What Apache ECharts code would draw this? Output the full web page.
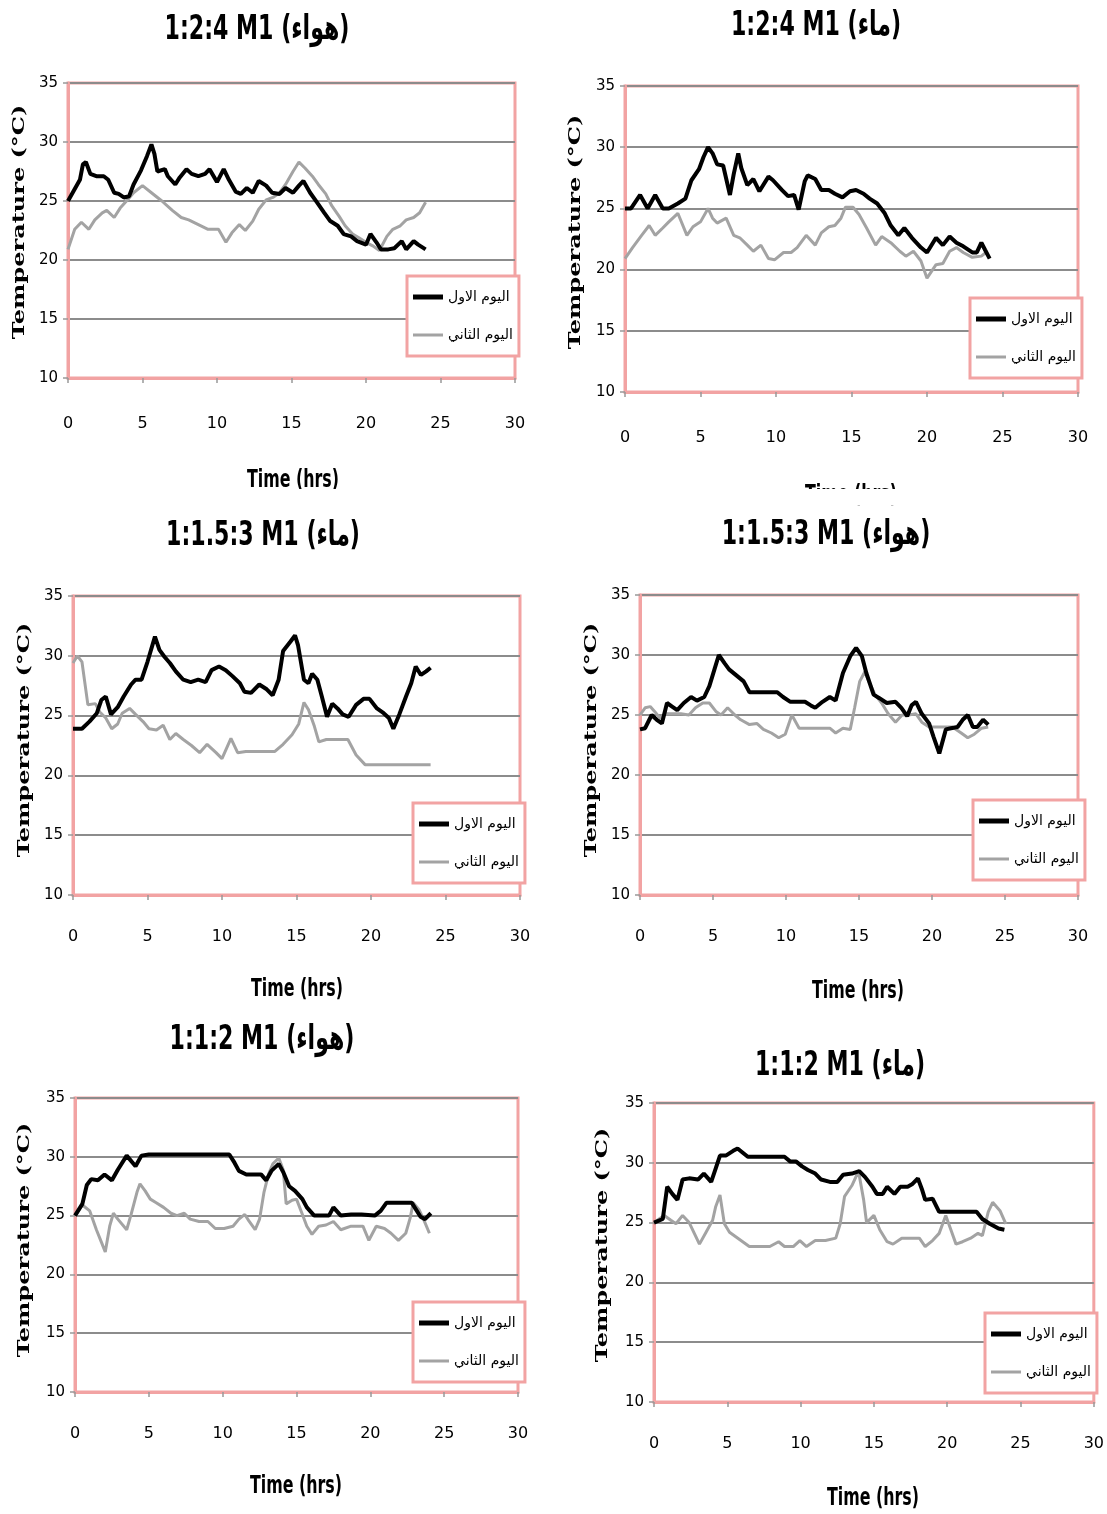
<!DOCTYPE html>
<html>
<head>
<meta charset="utf-8">
<script src="https://cdn.jsdelivr.net/npm/echarts@6/dist/echarts.min.js"></script>
<style>
html,body{margin:0;padding:0;background:#fff;}
#c{width:1107px;height:1514px;}
</style>
</head>
<body>
<div id="c"></div>
<script>
// ---------------- DATA ----------------
const titles = [
  '1:2:4 M1 (هواء)', '1:2:4 M1 (ماء)',
  '1:1.5:3 M1 (ماء)', '1:1.5:3 M1 (هواء)',
  '1:1:2 M1 (هواء)', '1:1:2 M1 (ماء)'
];
const legendNames = ['اليوم الاول', 'اليوم الثاني'];
const xAxisName = 'Time (hrs)';
const yAxisName = 'Temperature (°C)';
const xTicks = [0, 5, 10, 15, 20, 25, 30];
const yTicks = [10, 15, 20, 25, 30, 35];

// Panel 1: 1:2:4 M1 (air)
const p1Day1 = [[0,25.0],[0.8,26.8],[1.0,28.1],[1.2,28.3],[1.5,27.3],[1.9,27.1],[2.4,27.1],[2.7,26.8],[3.1,25.7],[3.4,25.6],[3.75,25.3],[4.1,25.4],[4.4,26.4],[4.9,27.6],[5.3,28.8],[5.6,29.8],[5.8,29.0],[6.0,27.5],[6.5,27.7],[6.7,27.1],[7.2,26.4],[7.5,27.0],[7.95,27.7],[8.3,27.3],[8.75,27.1],[9.2,27.3],[9.5,27.7],[10.0,26.6],[10.45,27.7],[10.8,26.8],[11.25,25.8],[11.6,25.6],[12.0,26.1],[12.4,25.7],[12.8,26.7],[13.3,26.3],[13.7,25.7],[14.2,25.6],[14.6,26.1],[15.1,25.7],[15.5,26.3],[15.8,26.7],[16.25,25.7],[16.7,24.9],[17.2,24.0],[17.6,23.3],[18.1,22.9],[18.5,22.2],[19.0,22.0],[19.4,21.6],[20.0,21.3],[20.3,22.2],[20.7,21.5],[21.0,20.9],[21.5,20.9],[21.9,21.0],[22.4,21.6],[22.7,20.9],[23.2,21.6],[23.5,21.3],[24.0,20.9]];
const p1Day2 = [[0,20.9],[0.45,22.6],[0.9,23.2],[1.4,22.6],[1.8,23.4],[2.3,24.0],[2.6,24.2],[3.1,23.6],[3.5,24.4],[4.0,25.1],[4.4,25.7],[5.0,26.3],[5.6,25.7],[6.3,25.0],[7.0,24.2],[7.6,23.6],[8.1,23.4],[8.75,23.0],[9.4,22.6],[10.1,22.6],[10.6,21.5],[11.0,22.3],[11.5,23.0],[11.9,22.5],[12.4,23.3],[12.8,24.3],[13.3,25.1],[13.75,25.3],[14.2,25.7],[14.6,26.4],[15.1,27.5],[15.5,28.3],[15.9,27.8],[16.4,27.1],[16.8,26.4],[17.3,25.6],[17.7,24.6],[18.2,23.7],[18.6,22.9],[19.1,22.2],[19.5,21.9],[20.0,21.5],[20.45,21.2],[20.9,20.8],[21.4,22.0],[21.8,22.6],[22.3,22.9],[22.7,23.4],[23.2,23.6],[23.6,24.0],[24.0,24.9]];

// Panel 2: 1:2:4 M1 (water)
const p2Day1 = [[0,25.0],[0.4,25.0],[1.0,26.1],[1.5,25.0],[2.0,26.1],[2.5,25.0],[2.9,25.0],[3.5,25.4],[4.0,25.8],[4.4,27.3],[4.9,28.2],[5.2,29.2],[5.5,30.0],[5.8,29.5],[6.1,28.6],[6.5,28.5],[6.95,26.1],[7.2,27.8],[7.5,29.5],[7.7,28.3],[8.1,26.9],[8.5,27.4],[8.9,26.4],[9.5,27.6],[9.8,27.3],[10.4,26.5],[10.8,26.0],[11.2,26.1],[11.5,24.9],[11.9,27.2],[12.1,27.7],[12.6,27.4],[13.0,26.5],[13.5,26.5],[13.9,26.2],[14.4,25.9],[14.9,26.4],[15.3,26.5],[15.8,26.2],[16.2,25.8],[16.7,25.4],[17.2,24.6],[17.6,23.6],[18.1,22.8],[18.5,23.4],[19.0,22.6],[19.6,21.8],[20.0,21.4],[20.6,22.6],[21.05,22.0],[21.5,22.7],[21.95,22.2],[22.4,21.9],[23.0,21.4],[23.3,21.4],[23.6,22.2],[23.85,21.6],[24.15,20.9]];
const p2Day2 = [[0,20.9],[0.5,21.8],[1.1,22.8],[1.6,23.6],[2.0,22.8],[2.5,23.4],[2.9,23.9],[3.5,24.6],[4.1,22.8],[4.5,23.5],[5.0,23.9],[5.5,25.0],[5.8,24.2],[6.1,23.8],[6.7,24.2],[7.2,22.8],[7.6,22.6],[8.1,22.0],[8.5,21.5],[9.0,22.0],[9.5,20.9],[9.9,20.8],[10.5,21.4],[11.0,21.4],[11.4,21.8],[12.0,22.8],[12.6,22.0],[13.0,23.0],[13.5,23.5],[13.9,23.6],[14.3,24.2],[14.6,25.1],[15.1,25.1],[15.5,24.5],[16.0,23.4],[16.6,22.0],[17.0,22.7],[17.6,22.2],[18.2,21.5],[18.6,21.1],[19.1,21.5],[19.6,20.7],[20.0,19.3],[20.6,20.4],[21.05,20.5],[21.5,21.5],[21.95,21.8],[22.4,21.4],[23.0,21.0],[23.6,21.1],[24.0,21.5]];

// Panel 3: 1:1.5:3 M1 (water)
const p3Day1 = [[0,23.9],[0.6,23.9],[1.1,24.5],[1.6,25.2],[1.9,26.3],[2.2,26.6],[2.55,25.1],[3.0,25.7],[3.4,26.6],[3.9,27.6],[4.2,28.0],[4.6,28.0],[5.0,29.5],[5.5,31.6],[5.8,30.5],[6.15,29.9],[6.5,29.4],[6.9,28.7],[7.4,28.0],[7.9,27.8],[8.4,28.0],[8.9,27.8],[9.3,28.8],[9.8,29.1],[10.25,28.8],[10.7,28.3],[11.2,27.7],[11.5,27.0],[11.95,26.9],[12.5,27.6],[13.0,27.2],[13.4,26.7],[13.8,28.0],[14.1,30.4],[14.6,31.2],[14.9,31.7],[15.1,30.9],[15.5,28.0],[15.8,27.7],[16.05,28.5],[16.4,28.0],[16.7,26.6],[17.05,24.9],[17.4,26.0],[17.75,25.6],[18.1,25.1],[18.5,24.9],[19.0,25.9],[19.5,26.4],[19.9,26.4],[20.4,25.6],[20.85,25.2],[21.2,24.8],[21.5,23.9],[21.9,25.1],[22.35,26.6],[22.7,27.7],[23.0,29.1],[23.35,28.4],[23.7,28.7],[24.0,29.0]];
const p3Day2 = [[0,29.4],[0.3,30.0],[0.6,29.5],[1.0,25.9],[1.5,26.0],[1.8,25.3],[2.2,24.8],[2.6,23.9],[3.0,24.3],[3.3,25.2],[3.8,25.6],[4.2,25.1],[4.7,24.5],[5.1,23.9],[5.6,23.8],[6.05,24.2],[6.5,23.0],[6.9,23.5],[7.4,23.0],[7.95,22.5],[8.5,21.9],[9.0,22.6],[9.6,21.9],[10.0,21.4],[10.6,23.1],[11.05,21.9],[11.6,22.0],[12.3,22.0],[13.0,22.0],[13.55,22.0],[14.1,22.6],[14.7,23.4],[15.15,24.3],[15.5,26.1],[15.8,25.5],[16.2,24.1],[16.5,22.8],[17.0,23.0],[17.5,23.0],[18.0,23.0],[18.45,23.0],[19.0,21.7],[19.6,20.9],[20.0,20.9],[21.2,20.9],[22.3,20.9],[24.0,20.9]];

// Panel 4: 1:1.5:3 M1 (air)
const p4Day1 = [[0,23.8],[0.35,23.9],[0.8,25.0],[1.15,24.6],[1.5,24.3],[1.85,26.0],[2.2,25.7],[2.55,25.4],[3.0,26.0],[3.5,26.5],[3.9,26.2],[4.4,26.5],[4.75,27.4],[5.1,28.8],[5.4,30.0],[5.8,29.3],[6.1,28.8],[6.6,28.3],[7.1,27.8],[7.5,26.9],[8.1,26.9],[8.8,26.9],[9.4,26.9],[9.8,26.5],[10.3,26.1],[10.9,26.1],[11.3,26.1],[11.7,25.8],[12.0,25.6],[12.5,26.1],[13.0,26.5],[13.4,26.2],[13.9,28.5],[14.4,29.9],[14.8,30.6],[15.2,29.9],[15.5,28.5],[16.0,26.7],[16.4,26.4],[16.9,26.0],[17.5,26.1],[17.9,25.6],[18.3,24.9],[18.6,25.8],[18.9,26.1],[19.3,25.1],[19.8,24.3],[20.1,23.2],[20.5,21.8],[20.95,23.8],[21.3,23.9],[21.75,24.0],[22.1,24.6],[22.45,25.0],[22.8,24.0],[23.1,24.0],[23.5,24.6],[23.85,24.2]];
const p4Day2 = [[0,25.0],[0.35,25.6],[0.7,25.7],[1.0,25.3],[1.4,24.7],[1.7,25.1],[2.2,25.1],[2.8,25.1],[3.35,25.0],[3.8,25.6],[4.3,26.0],[4.75,26.0],[5.2,25.3],[5.55,25.0],[6.0,25.6],[6.5,25.0],[6.9,24.6],[7.5,24.2],[8.0,24.3],[8.45,23.8],[9.0,23.5],[9.5,23.1],[9.95,23.4],[10.4,25.0],[10.9,23.9],[11.6,23.9],[12.3,23.9],[13.0,23.9],[13.4,23.5],[13.9,23.9],[14.4,23.8],[14.7,25.6],[15.05,27.8],[15.4,28.6],[15.75,27.6],[16.1,26.7],[16.55,26.0],[17.0,25.1],[17.5,24.4],[17.95,25.0],[18.4,25.0],[18.9,25.1],[19.3,24.4],[19.8,24.0],[20.25,24.0],[20.8,24.0],[21.4,24.0],[22.0,23.5],[22.45,23.1],[22.9,23.4],[23.4,23.9],[23.85,24.0]];

// Panel 5: 1:1:2 M1 (air)
const p5Day1 = [[0,25.0],[0.5,26.0],[0.8,27.6],[1.1,28.1],[1.55,28.0],[2.0,28.5],[2.5,28.0],[2.9,28.9],[3.5,30.1],[4.1,29.2],[4.5,30.1],[5.0,30.2],[6.3,30.2],[7.7,30.2],[9.1,30.2],[10.45,30.2],[10.8,29.5],[11.1,28.8],[11.6,28.5],[12.2,28.5],[12.6,28.5],[12.95,28.0],[13.3,28.8],[13.8,29.4],[14.1,28.7],[14.5,27.5],[14.9,27.1],[15.4,26.4],[15.7,25.7],[16.2,25.0],[16.7,25.0],[17.2,25.0],[17.5,25.7],[18.0,25.0],[18.7,25.1],[19.4,25.1],[20.3,25.0],[20.7,25.4],[21.1,26.1],[21.9,26.1],[22.8,26.1],[23.4,24.9],[23.7,24.7],[24.1,25.2]];
const p5Day2 = [[0,25.0],[0.5,25.9],[1.0,25.4],[1.45,23.8],[1.8,22.7],[2.05,21.9],[2.35,24.1],[2.6,25.2],[2.9,24.7],[3.5,23.8],[3.8,25.1],[4.2,27.0],[4.4,27.7],[4.75,27.1],[5.1,26.4],[5.5,26.1],[6.0,25.7],[6.5,25.2],[6.9,25.0],[7.4,25.2],[7.8,24.7],[8.4,24.5],[9.0,24.5],[9.5,23.9],[10.1,23.9],[10.7,24.1],[11.1,24.7],[11.5,25.1],[11.8,24.5],[12.2,23.8],[12.5,24.7],[12.8,27.0],[13.1,28.5],[13.4,29.4],[13.8,29.9],[14.1,28.9],[14.3,26.0],[14.7,26.3],[15.0,26.4],[15.4,25.1],[15.7,24.1],[16.05,23.4],[16.5,24.1],[17.0,24.2],[17.5,24.5],[18.0,23.8],[18.7,24.1],[19.5,24.1],[19.9,22.9],[20.4,24.1],[20.96,23.9],[21.4,23.5],[21.9,22.9],[22.4,23.5],[22.7,24.8],[22.9,26.1],[23.3,25.5],[23.6,24.7],[24.0,23.5]];

// Panel 6: 1:1:2 M1 (water)
const p6Day1 = [[0,25.0],[0.6,25.3],[0.9,28.0],[1.25,27.4],[1.6,26.9],[1.95,28.6],[2.4,28.7],[3.0,28.6],[3.4,29.1],[3.9,28.4],[4.2,29.5],[4.5,30.6],[4.9,30.6],[5.4,31.0],[5.7,31.2],[6.1,30.8],[6.4,30.5],[7.3,30.5],[8.2,30.5],[8.9,30.5],[9.3,30.1],[9.7,30.1],[10.1,29.7],[10.5,29.4],[11.0,29.1],[11.4,28.6],[12.0,28.4],[12.5,28.4],[12.9,29.0],[13.5,29.1],[14.0,29.3],[14.4,28.8],[14.9,28.0],[15.2,27.4],[15.6,27.4],[15.9,28.0],[16.4,27.4],[16.8,28.0],[17.3,28.0],[17.6,28.2],[18.0,28.7],[18.3,27.7],[18.5,26.9],[19.0,27.0],[19.45,25.9],[19.9,25.9],[20.6,25.9],[21.3,25.9],[22.0,25.9],[22.4,25.3],[22.9,24.9],[23.5,24.5],[23.9,24.4]];
const p6Day2 = [[0,25.0],[0.7,25.6],[1.15,25.2],[1.5,24.9],[1.95,25.6],[2.4,25.0],[2.75,24.1],[3.1,23.2],[3.55,24.2],[4.0,25.2],[4.2,26.3],[4.5,27.3],[4.8,24.9],[5.15,24.2],[5.6,23.8],[6.05,23.4],[6.5,23.0],[7.2,23.0],[7.9,23.0],[8.5,23.4],[8.9,23.0],[9.5,23.0],[9.95,23.5],[10.4,23.0],[11.0,23.5],[11.7,23.5],[12.4,23.7],[12.7,24.9],[13.0,27.2],[13.5,28.1],[13.95,29.3],[14.3,26.9],[14.5,25.0],[15.0,25.6],[15.4,24.4],[15.9,23.4],[16.3,23.2],[16.9,23.7],[17.5,23.7],[18.1,23.7],[18.5,23.0],[19.0,23.5],[19.45,24.1],[19.9,25.6],[20.25,24.4],[20.6,23.2],[21.05,23.4],[21.6,23.7],[22.1,24.1],[22.4,23.9],[22.8,25.9],[23.1,26.7],[23.6,26.0],[24.0,24.9]];

const panelData = [
  [p1Day1, p1Day2], [p2Day1, p2Day2], [p3Day1, p3Day2],
  [p4Day1, p4Day2], [p5Day1, p5Day2], [p6Day1, p6Day2]
];

// ---------------- LAYOUT (pixels) ----------------
// x0/x1/y0/y1: plot box; t: title centre; n: x-axis-name centre; yn: y-axis-name centre; l: legend
const layout = [
  {x0:68,  x1:515,  y0:83,   y1:378,  t:[257,30],   n:[293,481],  yn:[20,222],   l:[407,276],  lbl:38},
  {x0:625, x1:1078, y0:86,   y1:392,  t:[816,26],   n:[851,496],  yn:[576,232],  l:[970,298],  lbl:38},
  {x0:73,  x1:520,  y0:596,  y1:895,  t:[263,536],  n:[297,990],  yn:[25,740],   l:[413,803],  lbl:34},
  {x0:640, x1:1078, y0:595,  y1:895,  t:[826,535],  n:[858,992],  yn:[592,740],  l:[973,800],  lbl:34},
  {x0:75,  x1:518,  y0:1098, y1:1392, t:[262,1040], n:[296,1487], yn:[25,1240],  l:[413,1302], lbl:34},
  {x0:654, x1:1095, y0:1103, y1:1402, t:[840,1066], n:[873,1499], yn:[603,1245], l:[985,1313], lbl:34}
];

const W = 1107, H = 1514;
const PINK = '#f2a3a3';

const option = {
  backgroundColor: '#ffffff',
  animation: false,
  grid: [], xAxis: [], yAxis: [], series: [], legend: [],
  graphic: []
};

layout.forEach((L, i) => {
  option.graphic.push({
    type: 'text', x: L.t[0], y: L.t[1], scaleX: 0.65, z: 50,
    style: {text: titles[i], font: 'bold 34px "DejaVu Sans", sans-serif', fill: '#000',
            textAlign: 'center', textVerticalAlign: 'middle'}
  });
  option.graphic.push({
    type: 'text', x: L.n[0], y: L.n[1], scaleX: 0.66, z: 50,
    style: {text: xAxisName, font: 'bold 24px "DejaVu Sans", sans-serif', fill: '#000',
            textAlign: 'center', textVerticalAlign: 'middle'}
  });
  option.graphic.push({
    type: 'text', x: L.yn[0], y: L.yn[1], rotation: Math.PI / 2, scaleX: 1.5, z: 50,
    style: {text: yAxisName, font: 'bold 16px "DejaVu Serif", serif', fill: '#000',
            textAlign: 'center', textVerticalAlign: 'middle'}
  });

  option.grid.push({
    left: L.x0, top: L.y0, width: L.x1 - L.x0, height: L.y1 - L.y0,
    show: true, borderColor: PINK, borderWidth: 3, backgroundColor: '#fff', containLabel: false
  });
  option.xAxis.push({
    type: 'value', gridIndex: i, min: xTicks[0], max: xTicks[xTicks.length - 1], interval: 5,
    axisLine: {show: true, onZero: false, lineStyle: {color: PINK, width: 3}},
    axisTick: {show: true, length: 5, lineStyle: {color: '#999', width: 1.5}},
    axisLabel: {margin: L.lbl, fontFamily: '"DejaVu Sans",sans-serif', fontSize: 16, color: '#000'},
    splitLine: {show: false}
  });
  option.yAxis.push({
    type: 'value', gridIndex: i, min: yTicks[0], max: yTicks[yTicks.length - 1], interval: 5,
    axisLine: {show: true, lineStyle: {color: PINK, width: 3}},
    axisTick: {show: true, length: 5, lineStyle: {color: '#999', width: 1.5}},
    axisLabel: {margin: 10, fontFamily: '"DejaVu Sans",sans-serif', fontSize: 15, color: '#000'},
    splitLine: {show: true, lineStyle: {color: '#8c8c8c', width: 2}}
  });
  option.series.push({
    type: 'line', name: legendNames[0], xAxisIndex: i, yAxisIndex: i,
    data: panelData[i][0], symbol: 'none', smooth: false, z: 3,
    lineStyle: {color: '#000', width: 4}, itemStyle: {color: '#000'}
  });
  option.series.push({
    type: 'line', name: legendNames[1], xAxisIndex: i, yAxisIndex: i,
    data: panelData[i][1], symbol: 'none', smooth: false, z: 2,
    lineStyle: {color: '#a3a3a3', width: 3}, itemStyle: {color: '#a3a3a3'}
  });
  option.legend.push({
    left: L.l[0], top: L.l[1], orient: 'vertical',
    data: [
      {name: legendNames[0], icon: 'path://M0,0H30V5H0Z'},
      {name: legendNames[1], icon: 'path://M0,0H30V3H0Z'}
    ],
    backgroundColor: '#fff', borderColor: PINK, borderWidth: 3,
    padding: [14, 6, 14, 6], itemGap: 24, itemWidth: 30, itemHeight: 16,
    selectedMode: false, z: 20,
    textStyle: {fontFamily: '"DejaVu Sans",sans-serif', fontSize: 14, color: '#000'}
  });
});

// mask that crops the lower part of the first row's axis names, as in the source figure
option.graphic.push({
  type: 'rect', shape: {x: 0, y: 489, width: W, height: 16},
  style: {fill: '#ffffff'}, z: 100
});

const chart = echarts.init(document.getElementById('c'), null, {renderer: 'canvas', width: W, height: H});
chart.setOption(option);
</script>
</body>
</html>
